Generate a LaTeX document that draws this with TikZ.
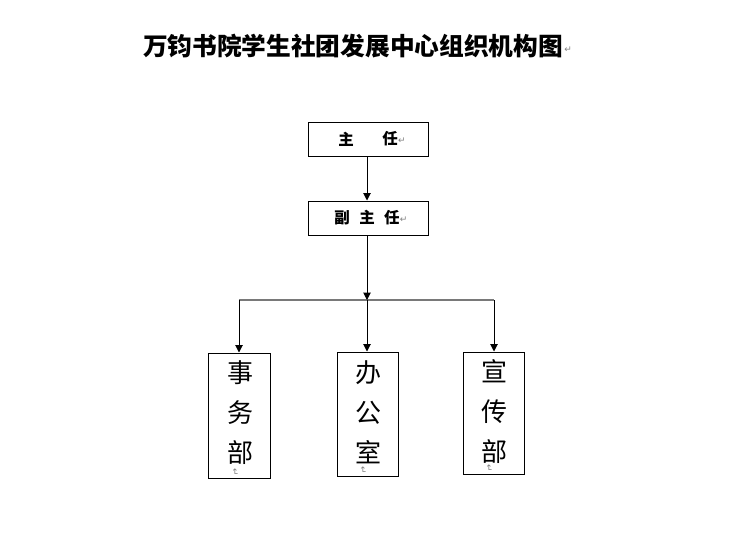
\documentclass[tikz,border=0pt]{standalone}
\usepackage{fontspec}
\newfontfamily\cjk{Noto Sans CJK SC}
\newfontfamily\dv{DejaVu Sans}
\usetikzlibrary{arrows.meta}
\tikzset{
  box/.style={draw=black, line width=1pt, inner sep=0pt},
  arr/.style={draw=black, line width=1pt, -{Triangle[length=7.5pt,width=7.5pt]}},
  hline/.style={draw=gray!95!black, line width=2pt},
  pmark/.style={text=gray, font=\dv\fontsize{9}{9}\selectfont, inner sep=0pt},
  vtext/.style={font=\cjk\fontsize{26}{40}\selectfont, align=center, inner sep=0pt},
  htext/.style={font=\cjk\bfseries\fontsize{15.5}{17}\selectfont, inner sep=0pt}
}
\begin{document}
\begin{tikzpicture}[x=1pt,y=-1pt]
\useasboundingbox (0,0) rectangle (733,536);
% title
\node[font=\cjk\bfseries\fontsize{24.7}{27}\selectfont, inner sep=0pt] (title) at (353,46) {万钧书院学生社团发展中心组织机构图};
\node[pmark, anchor=west] (tm) at (title.east) [xshift=1pt, yshift=-4pt] {↵};
% top boxes
\node[box, minimum width=120pt, minimum height=34pt] (zr) at (368,139) {};
\node[htext] (zr1) at (346,139) {主};
\node[htext] (zr2) at (390,139) {任};
\node[pmark, anchor=west] (zrm) at (398,141) {↵};
\node[box, minimum width=120pt, minimum height=34pt] (fzr) at (368,218) {};
\node[htext] (fzrt) at (367,218) {副\hspace{0.6em}主\hspace{0.6em}任};
\node[pmark, anchor=west] (fzrm) at (fzrt.east) [yshift=-2pt] {↵};
% junction
\coordinate (j) at (367,300);
\coordinate (jl) at (239,300);
\coordinate (jr) at (494,300);
% bottom boxes
\node[box, minimum width=62pt, minimum height=125pt] (swb) at (239,415.5) {};
\node[box, minimum width=61pt, minimum height=124pt] (bgs) at (367.5,414) {};
\node[box, minimum width=61pt, minimum height=122pt] (xcb) at (493.5,413) {};
\node[vtext] (swbt) at (240,413) {事\\务\\部};
\node[vtext] (bgst) at (368,412) {办\\公\\室};
\node[vtext] (xcbt) at (494,412) {宣\\传\\部};
\node[pmark, rotate=-90] (swbm) at (235,472) {↵};
\node[pmark, rotate=-90] (bgsm) at (363,470) {↵};
\node[pmark, rotate=-90] (xcbm) at (489,468) {↵};
% connectors
\draw[hline] (jl) -- (jr);
\draw[arr] (zr.south -| 367,0) -- (fzr.north -| 367,0);
\draw[arr] (fzr.south -| 367,0) -- (j);
\draw[arr] (j) -- (bgs.north -| 367,0);
\draw[arr] (jl) -- (swb.north);
\draw[arr] (jr) -- (xcb.north -| 494,0);
\end{tikzpicture}
\end{document}
